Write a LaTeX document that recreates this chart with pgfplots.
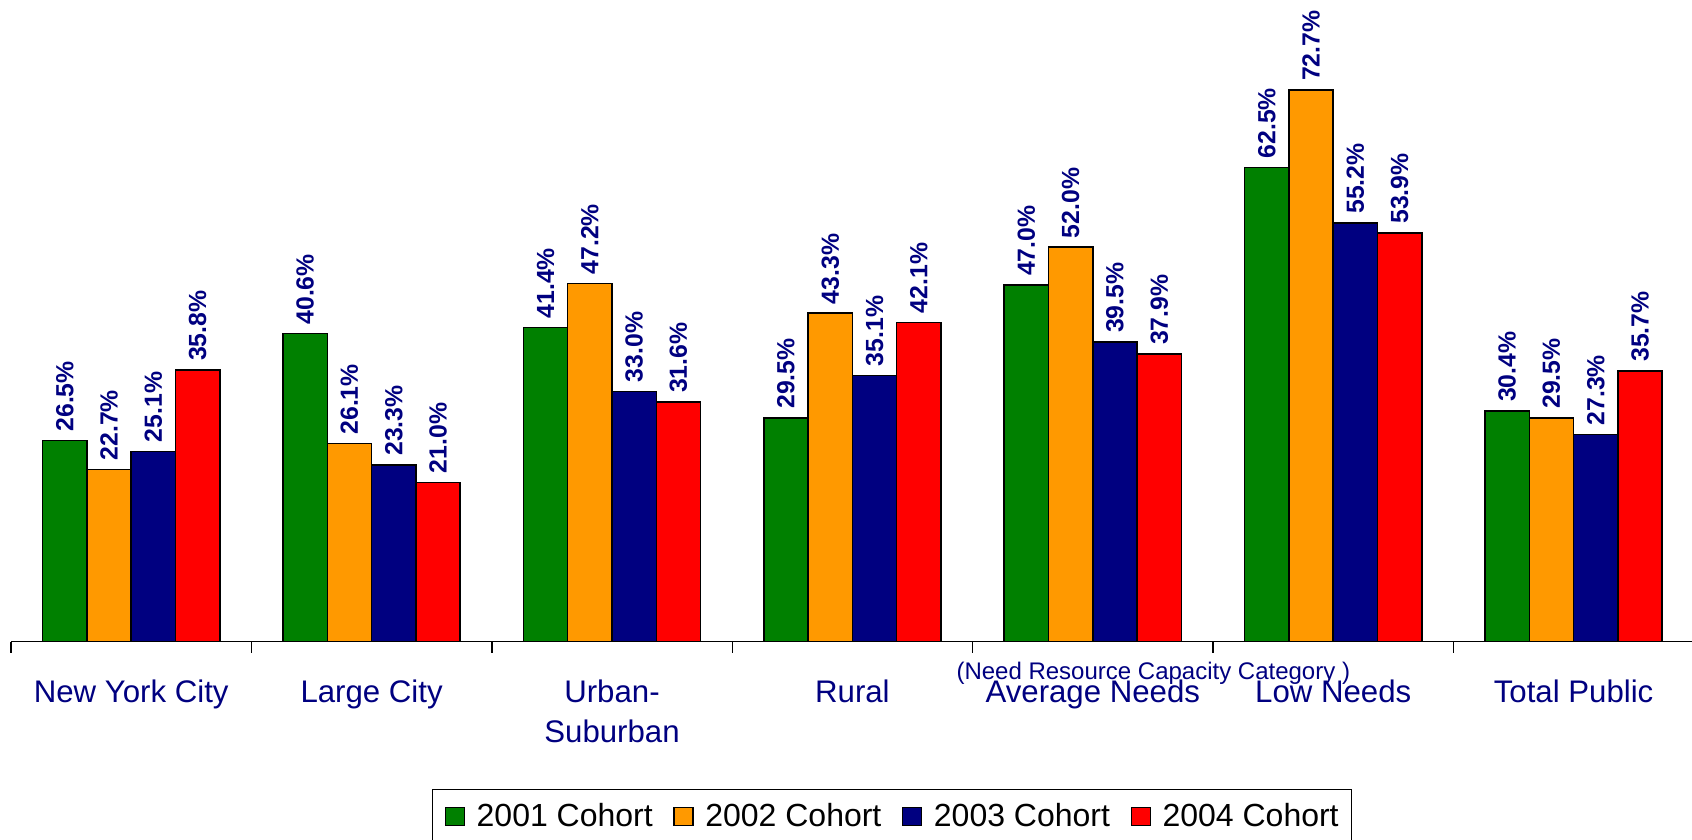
\documentclass[border=0pt]{standalone}
\usepackage{pgfplots}
\pgfplotsset{compat=1.18}
\usepackage{fontspec}
\setmainfont{Liberation Sans}

\definecolor{cgreen}{HTML}{008000}
\definecolor{corange}{HTML}{FF9900}
\definecolor{cnavy}{HTML}{000080}
\definecolor{cred}{HTML}{FF0000}

\pgfplotsset{
  cohort/.style={fill=#1, draw=black, line width=0.75pt,
    legend image code/.code={\draw[fill=#1, draw=black, line width=0.6pt] (0pt,-4.6pt) rectangle (9.5pt,4.6pt);}},
}

\begin{document}
\begin{tikzpicture}
\useasboundingbox (-5.5pt,-99.15pt) rectangle (840.5pt,320.85pt);
\begin{axis}[
    at={(0,0)}, anchor=south west,
    scale only axis, width=841.4pt, height=320.85pt,
    xmin=-0.5, xmax=6.5, ymin=0, ymax=84.58,
    clip=false,
    hide y axis,
    axis x line*=bottom,
    x axis line style={-, line width=0.7pt},
    ybar=0pt, bar width=22.15pt,
    xtick={0,...,6},
    xticklabels={New York City, Large City, {Urban-\\Suburban}, Rural, Average Needs, Low Needs, Total Public},
    typeset ticklabels with strut,
    xticklabel style={align=center, font=\fontsize{15.6}{19.75}\selectfont, text=cnavy,
        anchor=north, inner sep=0pt, yshift=-16.4pt},
    major tick length=0pt,
    extra x ticks={-0.5,0.5,1.5,2.5,3.5,4.5,5.5,6.5},
    extra x tick labels={},
    extra x tick style={major tick length=5.5pt, tick align=outside, tick style={black, line width=0.7pt}},
    /pgf/number format/assume math mode=true,
    nodes near coords={\pgfmathprintnumber[fixed,fixed zerofill,precision=1]{\pgfplotspointmeta}\%},
    every node near coord/.append style={rotate=90, anchor=west, text=cnavy,
        font=\bfseries\fontsize{12.4}{14}\selectfont, inner sep=4.2pt},
    legend columns=4,
    legend style={at={(0.25,-0.23)}, anchor=north west, draw=black, line width=0.5pt,
        inner xsep=6.3pt, inner ysep=6.85pt, font=\fontsize{16}{19}\selectfont,
        nodes={inner sep=0pt, text depth=0.15em},
        /tikz/every odd column/.append style={column sep=5.85pt},
        /tikz/every even column/.append style={column sep=10.3pt}},
]

% 2001 Cohort
\addplot[cohort=cgreen] coordinates {
  (0,26.5) (1,40.6) (2,41.4) (3,29.5) (4,47.0) (5,62.5) (6,30.4)
};
\addlegendentry{2001 Cohort}

% 2002 Cohort
\addplot[cohort=corange] coordinates {
  (0,22.7) (1,26.1) (2,47.2) (3,43.3) (4,52.0) (5,72.7) (6,29.5)
};
\addlegendentry{2002 Cohort}

% 2003 Cohort
\addplot[cohort=cnavy] coordinates {
  (0,25.1) (1,23.3) (2,33.0) (3,35.1) (4,39.5) (5,55.2) (6,27.3)
};
\addlegendentry{2003 Cohort}

% 2004 Cohort
\addplot[cohort=cred] coordinates {
  (0,35.8) (1,21.0) (2,31.6) (3,42.1) (4,37.9) (5,53.9) (6,35.7)
};
\addlegendentry{2004 Cohort}

\node[anchor=base, text=cnavy, font=\fontsize{12}{14}\selectfont]
  at (axis cs:4.2517,0) [yshift=-18.8pt] {(Need Resource Capacity Category )};
\end{axis}
\end{tikzpicture}
\end{document}
